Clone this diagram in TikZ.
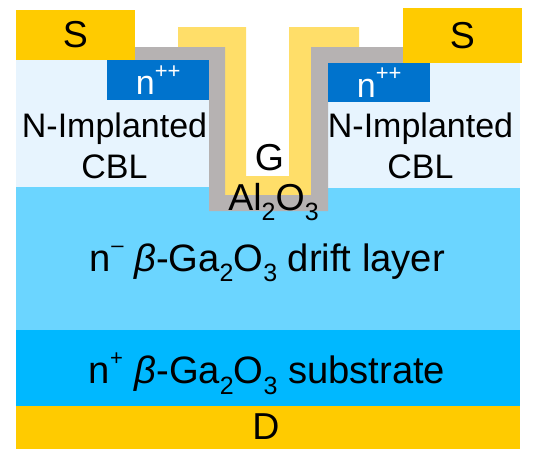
\documentclass[tikz,border=0pt]{standalone}
\usepackage{fontspec}
\setmainfont{Liberation Sans}
\usetikzlibrary{positioning}
\definecolor{metal}{RGB}{255,203,0}
\definecolor{gate}{RGB}{255,222,105}
\definecolor{oxide}{RGB}{182,178,178}
\definecolor{cbl}{RGB}{231,244,254}
\definecolor{drift}{RGB}{107,213,255}
\definecolor{substrate}{RGB}{0,184,255}
\definecolor{contact}{RGB}{0,115,205}
\newcommand{\lowsub}[1]{\raisebox{-0.27em}{\fontsize{25}{25}\selectfont #1}}
\newcommand{\highsup}[1]{\raisebox{0.48em}{\fontsize{22}{22}\selectfont #1}}
\tikzset{
	x=1pt, y=-1pt,
	layertext/.style={font=\fontsize{37.5}{44}\selectfont, inner sep=0pt, align=center},
	cbltext/.style={layertext, font=\fontsize{34}{40.5}\selectfont},
	bulktext/.style={layertext, font=\fontsize{38.2}{44}\selectfont},
	layer/.style={layertext, anchor=north west, outer sep=0pt},
	wide/.style={layer, minimum width=504pt}
}
\begin{document}
\begin{tikzpicture}
	\useasboundingbox (0,0) rectangle (536,471);
	\node[wide, fill=metal, minimum height=43pt] (drain) at (16,406) {};
	\node[wide, fill=substrate, minimum height=76pt, anchor=south] (sub) [above=0pt of drain] {};
	\node[wide, fill=drift, minimum height=143pt, anchor=south] (driftlayer) [above=0pt of sub] {};
	\node[layer, fill=cbl, minimum width=193pt, minimum height=127pt] (cblL) at (16,60) {};
	\node[layer, fill=cbl, minimum width=192pt, minimum height=125pt] (cblR) at (328,63) {};
	\fill[gate] (178,27) -- (246,27) -- (246,176) -- (289,176) -- (289,27) -- (359,27) -- (359,47)
		-- (311,47) -- (311,195) -- (225,195) -- (225,47) -- (178,47) -- cycle;
	\fill[oxide] (135,47) -- (225,47) -- (225,195) -- (311,195) -- (311,47) -- (403,47) -- (403,63)
		-- (328,63) -- (328,211) -- (209,211) -- (209,60) -- (135,60) -- cycle;
	\node[layer, fill=metal, minimum width=119pt, minimum height=50pt] (sourceL) at (16,10) {S};
	\node[layer, fill=metal, minimum width=119pt, minimum height=55pt] (sourceR) at (403,8) {S};
	\node[cbltext, anchor=north west, fill=contact, text=white, minimum width=102pt, minimum height=40pt] (contactL) at (107,60) {n\highsup{++}};
	\node[cbltext, anchor=north west, fill=contact, text=white, minimum width=102pt, minimum height=39pt] (contactR) at (328,63) {n\highsup{++}};
	\node[cbltext] (labelL) at (114.5,146) {N-Implanted\\CBL};
	\node[cbltext] (labelR) at (420.5,146) {N-Implanted\\CBL};
	\node[layertext] (gatelabel) at (269.5,158) {G};
	\node[layertext] (oxidelabel) at (273.5,202) {Al\lowsub{2}O\lowsub{3}};
	\node[layertext] (drainlabel) at (266,427) {D};
	\node[bulktext] (driftlabel) at (267,262.5) {n\highsup{\hspace{1pt}–} \textit{β}-Ga\lowsub{2}O\lowsub{3} drift layer};
	\node[bulktext] (sublabel) at (267,373.5) {n\highsup{+}\hspace{1pt} \textit{β}-Ga\lowsub{2}O\lowsub{3} substrate};
\end{tikzpicture}
\end{document}
